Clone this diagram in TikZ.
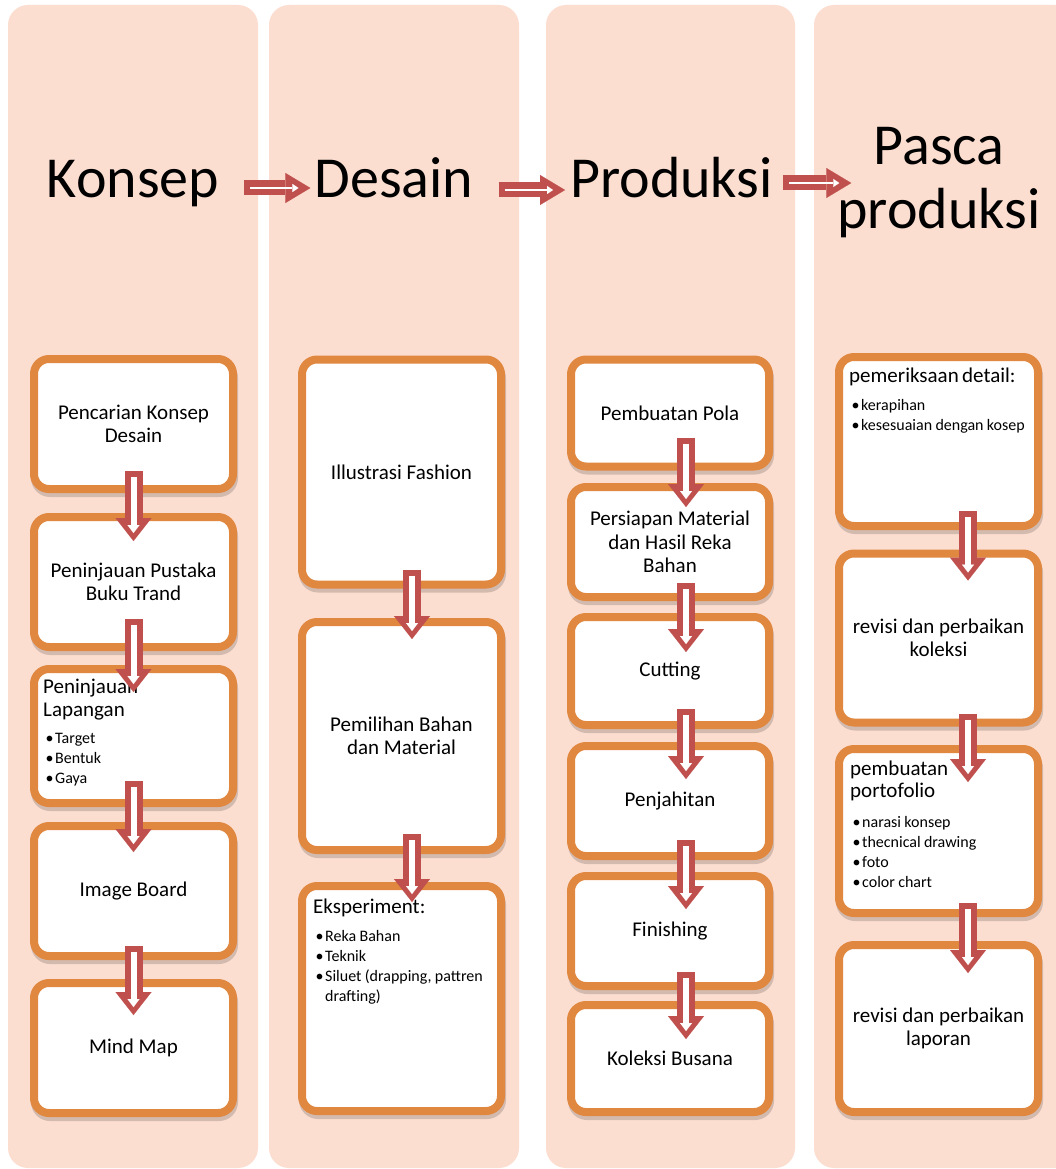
\documentclass[tikz,border=0pt]{standalone}
\usepackage{fontspec}
\setmainfont{Carlito}
\usetikzlibrary{arrows.meta,calc}
\definecolor{panelc}{RGB}{252,222,209}
\definecolor{boxc}{RGB}{224,135,64}
\definecolor{arrc}{RGB}{192,80,77}
\newcommand\bul[1]{\makebox[12pt][l]{\hspace{2.5pt}•}#1\par}
\newcommand\ttlf{\fontsize{21}{23}\selectfont}
\newcommand\bulf{\fontsize{16}{20}\selectfont}
\newcommand\dflow[2]{\draw[dred] #1 -- #2; \draw[dwhite] #1 -- #2;}
\newcommand\hflow[2]{\draw[hred] #1 -- #2; \draw[hwhite] #1 -- #2;}
\begin{document}
\begin{tikzpicture}[x=1pt,y=-1pt,
  panel/.style={fill=panelc, rounded corners=20pt},
  title/.style={font=\fontsize{58}{63}\selectfont, inner sep=0pt, anchor=base, align=center},
  box/.style={draw=boxc, line width=8pt, fill=white, rounded corners=15pt, inner sep=2pt,
    align=center, minimum width=199pt, font=\fontsize{21}{23.5}\selectfont,
    preaction={draw=black, opacity=0.16, line width=8pt, transform canvas={shift={(1pt,-4pt)}}}},
  listtxt/.style={inner sep=0pt, anchor=base west, text width=190pt, align=left},
  dred/.style={draw=arrc, line width=18pt, -{Triangle[width=36pt,length=23pt,line width=0.01pt]}},
  dwhite/.style={draw=white, line width=6pt, shorten <=6pt, shorten >=8pt, -{Triangle[width=12pt,length=8pt,line width=0.01pt]}},
  hred/.style={draw=arrc, line width=15pt, -{Triangle[width=30pt,length=25pt,line width=0.01pt]}},
  hwhite/.style={draw=white, line width=2.5pt, shorten <=6pt, shorten >=12pt, -{Triangle[width=8pt,length=6pt,line width=0.01pt]}}
]
\useasboundingbox (0,0) rectangle (1055,1169);
\fill[white] (0,0) rectangle (1055,1169);
% panels
\fill[panel] (8,5) rectangle (258,1168);
\fill[panel] (269,5) rectangle (519,1168);
\fill[panel] (546,5) rectangle (795,1168);
\fill[panel] (814,5) rectangle (1075,1168);
% titles
\node[title] (tK) at (133,197) {Konsep};
\node[title] (tD) at (394,197) {Desain};
\node[title] (tPr) at (671.5,197) {Produksi};
\node[title] (tPa) at (939,228) {Pasca\\produksi};
% column 1
\node[box, minimum height=130pt] (b11) at (133.5,424) {Pencarian Konsep\\Desain};
\node[box, minimum height=130pt] (b12) at (133.5,582) {Peninjauan Pustaka\\Buku Trand};
\node[box, minimum height=134pt] (b13) at (133.5,736) {};
\node[box, minimum height=130pt] (b14) at (133.5,891) {Image Board};
\node[box, minimum height=130pt] (b15) at (133.5,1048) {Mind Map};
\node[listtxt] (t13) at (43,693) {{\ttlf Peninjauan\\Lapangan\par}\vspace{7pt}{\bulf\bul{Target}\bul{Bentuk}\bul{Gaya}}};
% column 2
\node[box, minimum height=225pt] (b21) at (401.5,472) {Illustrasi Fashion};
\node[box, minimum height=228pt] (b22) at (401.5,736) {Pemilihan Bahan\\dan Material};
\node[box, minimum height=225pt] (b23) at (401.5,998.5) {};
\node[listtxt] (t23) at (313,913) {{\ttlf Eksperiment:\par}\vspace{8pt}{\bulf\bul{Reka Bahan}\bul{Teknik}\bul{Siluet (drapping, pattren}\hspace*{12pt}drafting)\par}};
% column 3
\node[box, minimum width=198pt, minimum height=107pt] (b31) at (670,413) {Pembuatan Pola};
\node[box, minimum width=198pt, minimum height=110pt] (b32) at (670,542) {Persiapan Material\\dan Hasil Reka\\Bahan};
\node[box, minimum width=198pt, minimum height=108pt] (b33) at (670,671) {Cutting};
\node[box, minimum width=198pt, minimum height=110pt] (b34) at (670,801) {Penjahitan};
\node[box, minimum width=198pt, minimum height=110pt] (b35) at (670,931) {Finishing};
\node[box, minimum width=198pt, minimum height=107pt] (b36) at (670,1058.5) {Koleksi Busana};
% column 4
\node[box, minimum height=169pt] (b41) at (938.5,441.5) {};
\node[box, minimum height=169pt] (b42) at (938.5,638) {revisi dan perbaikan\\koleksi};
\node[box, minimum height=164pt] (b43) at (938.5,831) {};
\node[box, minimum height=167pt] (b44) at (938.5,1028.5) {revisi dan perbaikan\\laporan};
\node[listtxt] (t41) at (849,382) {{\ttlf pemeriksaan detail:\par}\vspace{8pt}{\bulf\bul{kerapihan}\bul{kesesuaian dengan kosep}}};
\node[listtxt] (t43) at (850,775) {{\fontsize{21}{22}\selectfont pembuatan\\portofolio\par}\vspace{10pt}{\bulf\bul{narasi konsep}\bul{thecnical drawing}\bul{foto}\bul{color chart}}};
% title arrows
\hflow{([xshift=25pt,yshift=9pt]tK.base east)}{([xshift=-4pt,yshift=9pt]tD.base west)}
\hflow{([xshift=25pt,yshift=7pt]tD.base east)}{([xshift=-5pt,yshift=7pt]tPr.base west)}
\coordinate (h3) at ([xshift=10pt,yshift=14pt]tPr.base east);
\hflow{(h3)}{($(h3 -| tPa.west)+(14,0)$)}
% column 1 arrows
\dflow{([yshift=22pt]b11.south)}{([yshift=-28pt]b12.north)}
\dflow{([yshift=32pt]b12.south)}{([yshift=-27pt]b13.north)}
\dflow{([yshift=26pt]b13.south)}{([yshift=-30pt]b14.north)}
\dflow{([yshift=14pt]b14.south)}{([yshift=-36pt]b15.north)}
% column 2 arrows
\dflow{([xshift=10.5pt,yshift=19pt]b21.south)}{([xshift=10.5pt,yshift=-21pt]b22.north)}
\dflow{([xshift=10.5pt,yshift=20pt]b22.south)}{([xshift=10.5pt,yshift=-20pt]b23.north)}
% column 3 arrows
\dflow{([xshift=16pt,yshift=33pt]b31.south)}{([xshift=16pt,yshift=-24pt]b32.north)}
\dflow{([xshift=16pt,yshift=18pt]b32.south)}{([xshift=16pt,yshift=-39pt]b33.north)}
\dflow{([xshift=16pt,yshift=20pt]b33.south)}{([xshift=16pt,yshift=-37pt]b34.north)}
\dflow{([xshift=16pt,yshift=20pt]b34.south)}{([xshift=16pt,yshift=-37pt]b35.north)}
\dflow{([xshift=16pt,yshift=18pt]b35.south)}{([xshift=16pt,yshift=-38pt]b36.north)}
% column 4 arrows
\dflow{([xshift=29.5pt,yshift=19pt]b41.south)}{([xshift=29.5pt,yshift=-31pt]b42.north)}
\dflow{([xshift=29.5pt,yshift=13pt]b42.south)}{([xshift=29.5pt,yshift=-37pt]b43.north)}
\dflow{([xshift=29.5pt,yshift=14pt]b43.south)}{([xshift=29.5pt,yshift=-32pt]b44.north)}
\end{tikzpicture}
\end{document}
